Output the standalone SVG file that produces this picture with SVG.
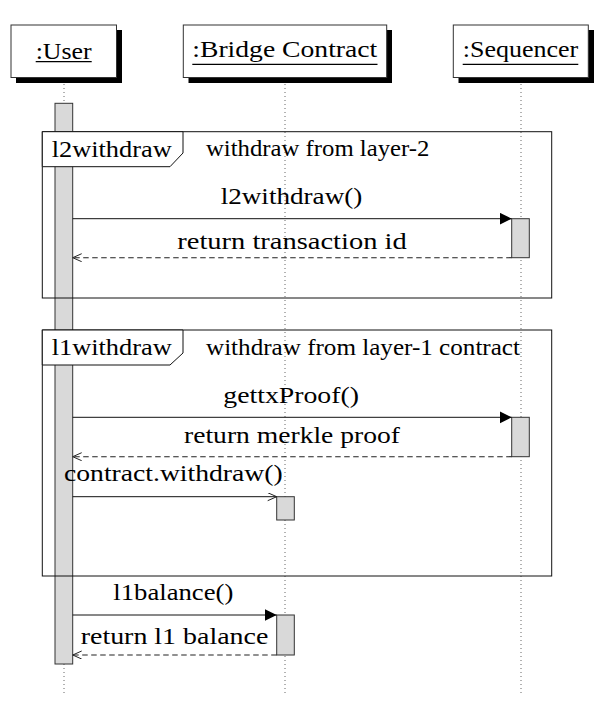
<svg xmlns="http://www.w3.org/2000/svg" width="610" height="703" viewBox="0 0 610 703">
<defs>
<marker id="solid" markerUnits="userSpaceOnUse" markerWidth="13" markerHeight="13" refX="12" refY="6" orient="auto">
<path d="M0,0 L12,6 L0,12 z" fill="#000"/>
</marker>
<marker id="open" markerUnits="userSpaceOnUse" markerWidth="12" markerHeight="10" refX="9.5" refY="4" orient="auto">
<path d="M0.5,0 L9.5,4 L0.5,8" fill="none" stroke="#222" stroke-width="1"/>
</marker>
</defs>
<style>
text{font-family:"Liberation Serif","Times New Roman",serif;font-size:23px;fill:#000}
.hdr{fill:#fff;stroke:#333;stroke-width:1}
.shadow{fill:#000}
.ul{stroke:#000;stroke-width:1.2}
.life{stroke:#666;stroke-width:1;stroke-dasharray:1 3;fill:none}
.act{fill:#d9d9d9;stroke:#333;stroke-width:1}
.frame{fill:none;stroke:#111;stroke-width:1}
.flabel{fill:#fff;stroke:#111;stroke-width:1}
.msg{stroke:#111;stroke-width:1;fill:none}
.ret{stroke:#222;stroke-width:1.1;fill:none;stroke-dasharray:5.5 3.5}
</style>
<g id="user">
<line class="life" x1="64" y1="84" x2="64" y2="695"/>
<rect class="shadow" x="16" y="30" width="106" height="53"/>
<rect class="hdr" x="11" y="25" width="105.5" height="52.5"/>
<text x="35.7" y="59" textLength="56" lengthAdjust="spacingAndGlyphs">:User</text>
<line class="ul" x1="35.7" y1="61.7" x2="91.7" y2="61.7"/>
<rect class="act" x="55" y="103.3" width="17.7" height="560.7"/>
</g>
<g id="bridge">
<line class="life" x1="285" y1="84" x2="285" y2="695"/>
<rect class="shadow" x="188.5" y="30" width="203.5" height="53"/>
<rect class="hdr" x="183.3" y="25" width="203.4" height="52.5"/>
<text x="192.3" y="56.8" textLength="185" lengthAdjust="spacingAndGlyphs">:Bridge Contract</text>
<line class="ul" x1="192.3" y1="64.3" x2="377.5" y2="64.3"/>
<rect class="act" x="276.7" y="496.7" width="17.6" height="23.3"/>
<rect class="act" x="276.7" y="615" width="17.6" height="40"/>
</g>
<g id="sequencer">
<line class="life" x1="521" y1="84" x2="521" y2="695"/>
<rect class="shadow" x="458.5" y="30" width="135.5" height="53"/>
<rect class="hdr" x="453.3" y="25" width="135" height="52.5"/>
<text x="462.7" y="56.8" textLength="115.6" lengthAdjust="spacingAndGlyphs">:Sequencer</text>
<line class="ul" x1="462.7" y1="64.3" x2="578.3" y2="64.3"/>
<rect class="act" x="511.7" y="218.7" width="17.6" height="39"/>
<rect class="act" x="511.7" y="417.3" width="17.6" height="39.4"/>
</g>
<g id="frame-l2withdraw">
<rect class="frame" x="42.3" y="131.7" width="509.4" height="166.3"/>
<path class="flabel" d="M42.3,131.7 H183 V153 L170,166.7 H42.3 Z"/>
<text x="51.7" y="156.7" textLength="120" lengthAdjust="spacingAndGlyphs">l2withdraw</text>
<text x="206" y="156" textLength="223.3" lengthAdjust="spacingAndGlyphs">withdraw from layer-2</text>
</g>
<g id="frame-l1withdraw">
<rect class="frame" x="42.3" y="330" width="509.4" height="246"/>
<path class="flabel" d="M42.3,330 H183 V353 L170,365 H42.3 Z"/>
<text x="51.7" y="355" textLength="120" lengthAdjust="spacingAndGlyphs">l1withdraw</text>
<text x="206" y="355" textLength="314" lengthAdjust="spacingAndGlyphs">withdraw from layer-1 contract</text>
</g>
<g id="connectors">
<line class="msg" x1="72.7" y1="218.7" x2="511.7" y2="218.7" marker-end="url(#solid)"/>
<text x="220.7" y="204" textLength="141.6" lengthAdjust="spacingAndGlyphs">l2withdraw()</text>
<line class="ret" x1="511.7" y1="257.7" x2="72.7" y2="257.7" marker-end="url(#open)"/>
<text x="177.3" y="249.3" textLength="229.4" lengthAdjust="spacingAndGlyphs">return transaction id</text>
<line class="msg" x1="72.7" y1="417.3" x2="511.7" y2="417.3" marker-end="url(#solid)"/>
<text x="223.3" y="402.7" textLength="135.7" lengthAdjust="spacingAndGlyphs">gettxProof()</text>
<line class="ret" x1="511.7" y1="456.7" x2="72.7" y2="456.7" marker-end="url(#open)"/>
<text x="184" y="442.7" textLength="216" lengthAdjust="spacingAndGlyphs">return merkle proof</text>
<line class="msg" x1="72.7" y1="496.7" x2="276.7" y2="496.7" marker-end="url(#open)"/>
<text x="64" y="480.7" textLength="218.7" lengthAdjust="spacingAndGlyphs">contract.withdraw()</text>
<line class="msg" x1="72.7" y1="615" x2="276.7" y2="615" marker-end="url(#solid)"/>
<text x="113.3" y="600" textLength="120" lengthAdjust="spacingAndGlyphs">l1balance()</text>
<line class="ret" x1="276.7" y1="655" x2="72.7" y2="655" marker-end="url(#open)"/>
<text x="80.7" y="644" textLength="187.6" lengthAdjust="spacingAndGlyphs">return l1 balance</text>
</g>
</svg>
